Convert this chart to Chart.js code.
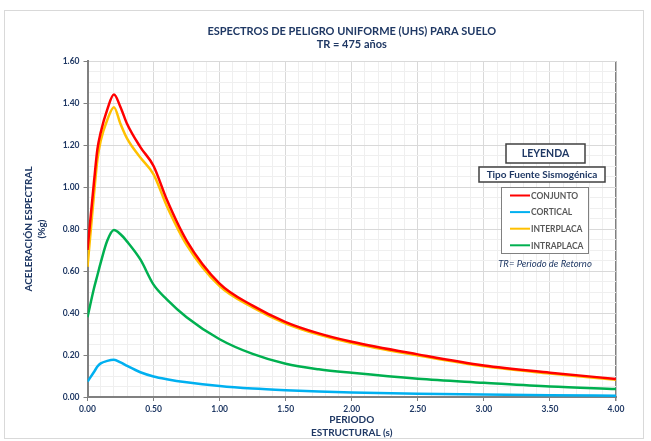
<!DOCTYPE html>
<html>
<head>
<meta charset="utf-8">
<title>Espectros UHS</title>
<script src="https://cdn.jsdelivr.net/npm/chart.js@4.4.1/dist/chart.umd.min.js"></script>
<style>
    html, body { margin: 0; padding: 0; background: #ffffff; }
    #wrap { width: 651px; height: 441px; }
</style>
</head>
<body>
<div id="wrap"><canvas id="uhs-chart" width="651" height="441"></canvas></div>
<script>
// Periodos (s) y aceleraciones espectrales
const periods = [0, 0.05, 0.075, 0.1, 0.15, 0.2, 0.25, 0.3, 0.4, 0.5, 0.6, 0.75, 1.0, 1.25, 1.5, 1.75, 2.0, 2.5, 3.0, 3.5, 4.0];
const conjunto = [0.70, 1.03, 1.18, 1.26, 1.37, 1.44, 1.38, 1.30, 1.19, 1.10, 0.94, 0.745, 0.54, 0.435, 0.357, 0.303, 0.263, 0.203, 0.15, 0.116, 0.086];
const cortical = [0.073, 0.12, 0.145, 0.16, 0.172, 0.177, 0.165, 0.148, 0.118, 0.098, 0.085, 0.07, 0.052, 0.04, 0.032, 0.026, 0.022, 0.016, 0.012, 0.008, 0.006];
const interplaca = [0.62, 0.97, 1.13, 1.22, 1.32, 1.38, 1.30, 1.23, 1.14, 1.06, 0.91, 0.725, 0.528, 0.427, 0.35, 0.297, 0.257, 0.198, 0.146, 0.112, 0.082];
const intraplaca = [0.38, 0.52, 0.58, 0.64, 0.745, 0.795, 0.775, 0.74, 0.655, 0.535, 0.465, 0.38, 0.275, 0.205, 0.158, 0.132, 0.115, 0.087, 0.068, 0.05, 0.038];

const seriesLabels = ['CONJUNTO', 'CORTICAL', 'INTERPLACA', 'INTRAPLACA'];
const seriesColors = ['#ff0000', '#00b0f0', '#ffc000', '#00b050'];

const chartTitle = ['ESPECTROS DE PELIGRO UNIFORME (UHS) PARA SUELO', 'TR = 475 años'];
const xTitle = ['PERIODO', 'ESTRUCTURAL (s)'];
const yTitle = ['ACELERACIÓN ESPECTRAL', '(%g)'];
const legendTitle = 'LEYENDA';
const legendSubtitle = 'Tipo Fuente Sismogénica';
const legendNote = 'TR= Periodo de Retorno';

const NAVY = '#1f3864';
const FONT = 'Lato, "Open Sans", sans-serif';

function toPoints(values) {
    return values.map((v, i) => ({x: periods[i], y: v}));
}

function isMultiple(value, step) {
    const r = value / step;
    return Math.abs(r - Math.round(r)) < 1e-6;
}

// Fondo blanco y marco exterior
const frame = {
    id: 'frame',
    beforeDraw(chart) {
        const ctx = chart.ctx;
        ctx.save();
        ctx.fillStyle = '#ffffff';
        ctx.fillRect(0, 0, chart.width, chart.height);
        ctx.strokeStyle = '#d9d9d9';
        ctx.lineWidth = 1;
        ctx.strokeRect(4.5, 10.5, 639, 428);
        ctx.restore();
    }
};

// Leyenda con cajas, como en la hoja original
const boxLegend = {
    id: 'boxLegend',
    afterDraw(chart) {
        const ctx = chart.ctx;
        ctx.save();
        ctx.textAlign = 'center';
        ctx.textBaseline = 'middle';

        ctx.fillStyle = '#ffffff';
        ctx.strokeStyle = '#404040';
        ctx.lineWidth = 1.5;
        ctx.fillRect(506, 144, 79, 19);
        ctx.strokeRect(506, 144, 79, 19);
        ctx.fillStyle = NAVY;
        ctx.font = 'bold 10.5px ' + FONT;
        ctx.fillText(legendTitle, 545.5, 153.5);

        ctx.fillStyle = '#ffffff';
        ctx.fillRect(479, 167, 126, 15);
        ctx.strokeRect(479, 167, 126, 15);
        ctx.fillStyle = NAVY;
        ctx.font = 'bold 10px ' + FONT;
        ctx.fillText(legendSubtitle, 542, 174.5);

        ctx.fillStyle = '#ffffff';
        ctx.strokeStyle = '#808080';
        ctx.lineWidth = 1;
        ctx.fillRect(501.5, 187.5, 87, 66);
        ctx.strokeRect(501.5, 187.5, 87, 66);

        ctx.textAlign = 'left';
        ctx.font = 'bold 8.5px ' + FONT;
        chart.data.datasets.forEach((ds, i) => {
            const y = 195.5 + i * 16.6;
            ctx.strokeStyle = ds.borderColor;
            ctx.lineWidth = 2;
            ctx.beginPath();
            ctx.moveTo(510, y);
            ctx.lineTo(530, y);
            ctx.stroke();
            ctx.fillStyle = '#595959';
            ctx.fillText(ds.label, 531, y + 0.5);
        });

        ctx.textAlign = 'center';
        ctx.fillStyle = NAVY;
        ctx.font = 'italic 9.5px ' + FONT;
        ctx.fillText(legendNote, 545, 263.5);
        ctx.restore();
    }
};

const datasets = [conjunto, cortical, interplaca, intraplaca].map((values, i) => ({
    label: seriesLabels[i],
    data: toPoints(values),
    borderColor: seriesColors[i],
    backgroundColor: seriesColors[i],
    borderWidth: 2.5,
    pointRadius: 0,
    fill: false,
    cubicInterpolationMode: 'monotone'
}));

const config = {
    type: 'line',
    data: {datasets},
    options: {
        responsive: false,
        animation: false,
        layout: {padding: {left: 5, right: 35, top: 0, bottom: 0}},
        plugins: {
            legend: {display: false},
            tooltip: {enabled: false},
            title: {
                display: true,
                fullSize: false,
                text: chartTitle,
                color: NAVY,
                font: {family: FONT, size: 11, weight: 'bold', lineHeight: 1.2},
                padding: {top: 25, bottom: 9.6}
            }
        },
        scales: {
            x: {
                type: 'linear',
                min: 0,
                max: 4,
                border: {color: '#808080', width: 2},
                grid: {
                    color: c => isMultiple(c.tick.value, 4) && c.tick.value > 0 ? '#808080'
                        : (isMultiple(c.tick.value, 0.5) ? '#d9d9d9' : '#efefef'),
                    lineWidth: c => (c.tick.value > 3.99 ? 1.5 : 1),
                    tickColor: c => (isMultiple(c.tick.value, 0.5) ? '#808080' : 'rgba(0,0,0,0)'),
                    tickLength: 4
                },
                ticks: {
                    stepSize: 0.1,
                    autoSkip: false,
                    maxRotation: 0,
                    padding: 3,
                    color: NAVY,
                    font: {family: FONT, size: 8.5, weight: 'bold'},
                    callback: v => (isMultiple(v, 0.5) ? v.toFixed(2) : '')
                },
                title: {
                    display: true,
                    text: xTitle,
                    color: NAVY,
                    font: {family: FONT, size: 10, weight: 'bold', lineHeight: '13px'},
                    padding: {top: 0, bottom: 1.5}
                },
                afterFit: scale => { scale.height = 44; }
            },
            y: {
                min: 0,
                max: 1.6,
                border: {color: '#808080', width: 2},
                grid: {
                    color: c => (isMultiple(c.tick.value, 0.2) ? '#d9d9d9' : '#efefef'),
                    tickColor: c => (isMultiple(c.tick.value, 0.2) ? '#808080' : 'rgba(0,0,0,0)'),
                    tickLength: 4
                },
                ticks: {
                    stepSize: 0.05,
                    maxTicksLimit: 100,
                    autoSkip: false,
                    padding: 4,
                    color: NAVY,
                    font: {family: FONT, size: 8.5, weight: 'bold'},
                    callback: v => (isMultiple(v, 0.2) ? v.toFixed(2) : '')
                },
                title: {
                    display: true,
                    text: yTitle,
                    color: NAVY,
                    font: {family: FONT, size: 10, weight: 'bold', lineHeight: '13px'},
                    padding: {top: 17.5, bottom: 0}
                },
                afterFit: scale => { scale.width = 82.5; }
            }
        }
    },
    plugins: [frame, boxLegend]
};

const ctx = document.getElementById('uhs-chart').getContext('2d');
const uhsChart = new Chart(ctx, config);
</script>
</body>
</html>
